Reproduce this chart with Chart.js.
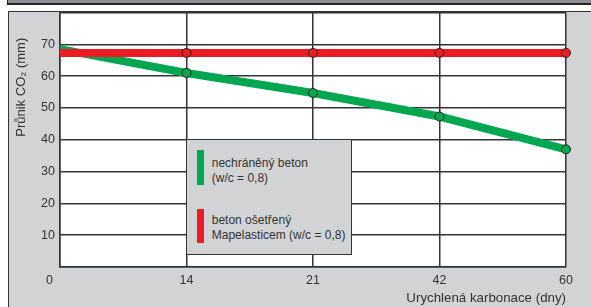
<!DOCTYPE html>
<html><head><meta charset="utf-8">
<script src="https://cdn.jsdelivr.net/npm/chart.js@4"></script>
<style>
html,body{margin:0;padding:0;background:#fff;width:591px;height:307px;overflow:hidden;font-family:"Liberation Sans",Arial,sans-serif;}
#strip{position:absolute;left:7px;top:0;width:600px;height:3px;background:#8e8f92;border-left:1.5px solid #222;border-bottom:2px solid #222;}
#panel{position:absolute;left:7.5px;top:11px;width:600px;height:300px;background:#d2d3d5;border-left:1.5px solid #333;border-top:1.5px solid #333;}
#wrap{position:absolute;left:0;top:0;width:591px;height:307px;}
#legend{position:absolute;background:#d2d3d5;border:1.5px solid #333;box-sizing:border-box;color:#333;font-size:12px;}
.bar{position:absolute;width:7px;}
.txt{position:absolute;left:25px;line-height:14.5px;white-space:nowrap;}
</style></head>
<body>
<div id="strip"></div>
<div id="panel"></div>
<div id="wrap"><canvas id="c" width="591" height="307"></canvas></div>
<div id="legend">
  <div class="bar" style="left:10px;top:10px;height:35px;background:#00a650;"></div>
  <div class="txt" id="t1" style="top:16px;"></div>
  <div class="bar" style="left:10px;top:69px;height:34px;background:#ed1c24;"></div>
  <div class="txt" id="t2" style="top:73px;"></div>
</div>
<script>
const categories = ['0', '14', '21', '42', '60'];
const greenValues = [68.5, 61.0, 54.7, 47.3, 37.0];
const redValues = [67.3, 67.3, 67.3, 67.3, 67.3];
const greenName = ['nechráněný beton', '(w/c = 0,8)'];
const redName = ['beton ošetřený', 'Mapelasticem (w/c = 0,8)'];
const yTicks = [10, 20, 30, 40, 50, 60, 70];
const yTitle = 'Průnik CO₂ (mm)';
const xTitle = 'Urychlená karbonace (dny)';

document.getElementById('t1').innerHTML = greenName.join('<br>');
document.getElementById('t2').innerHTML = redName.join('<br>');

const FONT = '"Liberation Sans", Arial, sans-serif';
const plotBg = {
  id: 'plotBg',
  beforeDraw(chart) {
    const a = chart.chartArea, ctx = chart.ctx;
    ctx.save(); ctx.fillStyle = '#fff';
    ctx.fillRect(a.left, a.top, a.right - a.left, a.bottom - a.top);
    ctx.restore();
  },
  afterRender(chart) {
    const x = chart.scales.x, y = chart.scales.y;
    const el = document.getElementById('legend');
    const l = x.getPixelForValue(1) - 0.75, t = y.getPixelForValue(40) - 0.75;
    el.style.left = l + 'px'; el.style.top = t + 'px';
    el.style.width = '166px'; el.style.height = '116px';
  }
};
const pr = [0, 4.5, 4.5, 4.5, 4.5];
new Chart(document.getElementById('c'), {
  type: 'line',
  data: {
    labels: categories,
    datasets: [
      { data: redValues, borderColor: '#ed1c24', backgroundColor: '#ed1c24', borderWidth: 8,
        pointRadius: pr, pointHoverRadius: pr, pointBorderColor: '#222', pointBorderWidth: 1, tension: 0 },
      { data: greenValues, borderColor: '#00a650', backgroundColor: '#00a650', borderWidth: 8,
        pointRadius: pr, pointHoverRadius: pr, pointBorderColor: '#222', pointBorderWidth: 1, tension: 0 }
    ]
  },
  options: {
    responsive: false, animation: false, devicePixelRatio: 1,
    layout: { padding: { left: 0, right: 25, top: 12, bottom: 0 } },
    plugins: { legend: { display: false }, tooltip: { enabled: false } },
    scales: {
      x: {
        type: 'category', offset: false,
        grid: { color: '#333', lineWidth: 1.5, drawTicks: false },
        border: { color: '#333', width: 1.5 },
        ticks: { color: '#333', font: { family: FONT, size: 12.5 }, padding: 6, maxRotation: 0, autoSkip: false,
          callback: (v, i) => i === 0 ? categories[i] + '      ' : categories[i] },
        title: { display: true, text: xTitle, align: 'end', color: '#333', font: { family: FONT, size: 13.3 }, padding: { top: 0, bottom: 1 } },
        afterFit(s) { s.height = 40; }
      },
      y: {
        min: 0, max: 80,
        afterBuildTicks(s) { s.ticks = [0].concat(yTicks, [80]).map(v => ({ value: v })); },
        grid: { color: '#333', lineWidth: 1.5, drawTicks: false },
        border: { color: '#333', width: 1.5 },
        ticks: { color: '#333', font: { family: FONT, size: 12.5 }, padding: 5,
          callback: v => yTicks.includes(v) ? String(v) : '' },
        title: { display: true, text: yTitle + '       ', align: 'end', color: '#333', font: { family: FONT, size: 13 }, padding: { top: 14, bottom: 0 } },
        afterFit(s) { s.width = 60; }
      }
    }
  },
  plugins: [plotBg]
});
</script>
</body></html>
